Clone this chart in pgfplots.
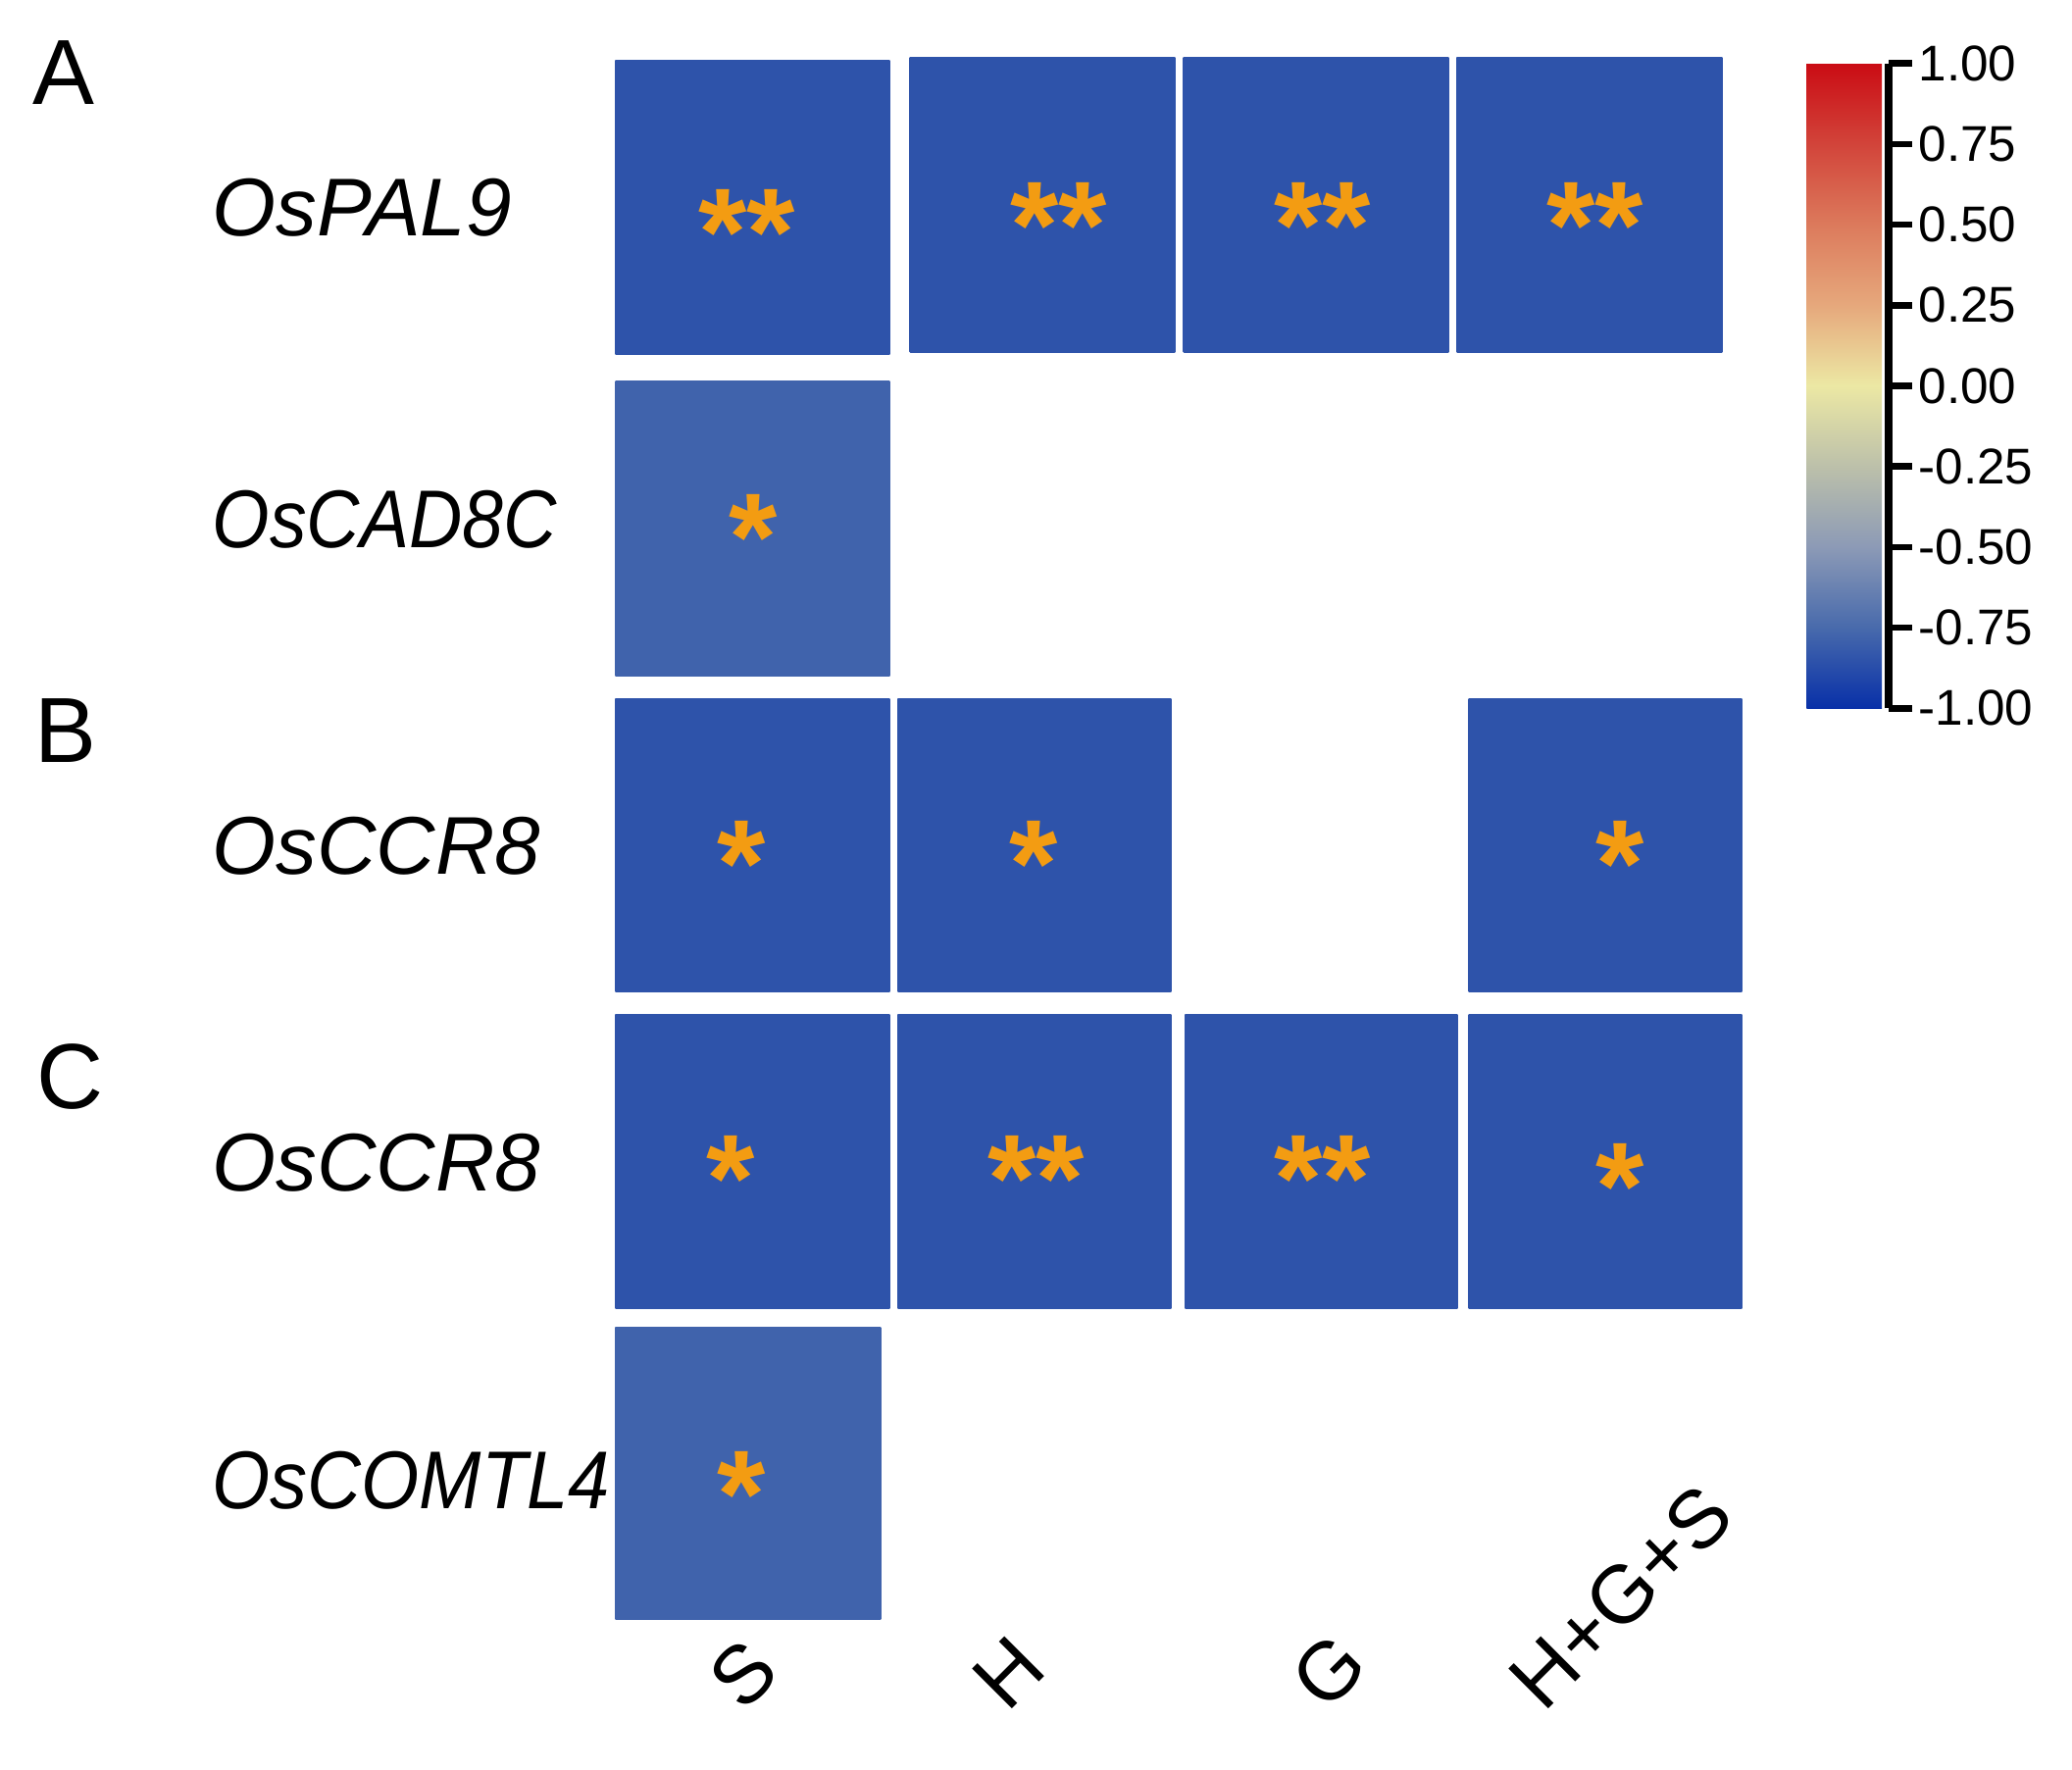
\documentclass[border=0pt]{standalone}
\usepackage{fontspec}
\setmainfont{Liberation Sans}
\usepackage{graphicx}
\usepackage{pgfplots}
\pgfplotsset{compat=1.18}
\usepackage{pgfplotstable}
\usepgfplotslibrary{patchplots}
\definecolor{starorange}{RGB}{243,156,18}
\pgfplotsset{colormap={corr}{rgb255=(8,48,168) rgb255=(72,106,172) rgb255=(140,154,182) rgb255=(188,192,170) rgb255=(236,232,164) rgb255=(230,168,124) rgb255=(220,122,92) rgb255=(210,68,58) rgb255=(202,12,20)}}

% heat-map cells: four corners each, c = correlation coefficient
\pgfplotstableread{
x y c
466 1071 -0.85
673 1071 -0.85
673 1293 -0.85
466 1293 -0.85
689 1073 -0.85
889 1073 -0.85
889 1295 -0.85
689 1295 -0.85
896 1073 -0.85
1096 1073 -0.85
1096 1295 -0.85
896 1295 -0.85
1103 1073 -0.85
1303 1073 -0.85
1303 1295 -0.85
1103 1295 -0.85
466 828 -0.78
673 828 -0.78
673 1050 -0.78
466 1050 -0.78
466 589 -0.85
673 589 -0.85
673 810 -0.85
466 810 -0.85
680 589 -0.85
886 589 -0.85
886 810 -0.85
680 810 -0.85
1112 589 -0.85
1318 589 -0.85
1318 810 -0.85
1112 810 -0.85
466 349 -0.85
673 349 -0.85
673 571 -0.85
466 571 -0.85
680 349 -0.85
886 349 -0.85
886 571 -0.85
680 571 -0.85
897 349 -0.85
1103 349 -0.85
1103 571 -0.85
897 571 -0.85
1112 349 -0.85
1318 349 -0.85
1318 571 -0.85
1112 571 -0.85
466 114 -0.78
666 114 -0.78
666 334 -0.78
466 334 -0.78
}\cells

\pgfplotstableread{
x y s
565 1177 **
801 1182 **
1001 1182 **
1207 1182 **
570 946 *
561 699 *
782 699 *
1226 699 *
553 461 *
784 461 **
1001 461 **
1226 455 *
561 222 *
}\stars

\begin{document}
\begin{tikzpicture}
\begin{axis}[
  scale only axis, width=392pt, height=334.75pt,
  xmin=0, xmax=1568, ymin=0, ymax=1339,
  axis line style={draw=none},
  major tick length=0pt, tick style={draw=none},
  clip=false,
  colormap name=corr,
  point meta min=-1, point meta max=1,
  xtick={562,762,1003,1168}, xticklabels={S,H,G,H+G+S},
  xticklabel style={yshift=10.5pt, rotate=45, anchor=base west, inner sep=0pt, font=\fontsize{15.5}{18}\selectfont},
  ytick={219,459,699,946,1182},
  yticklabels={{\scalebox{0.91}[1]{OsCOMTL4}},OsCCR8,OsCCR8,{\scalebox{0.9}[1]{OsCAD8C}},OsPAL9},
  yticklabel style={anchor=west, xshift=40pt, inner sep=0pt, font=\fontsize{15.5}{18}\selectfont\itshape},
]
\addplot[patch, patch type=rectangle, shader=flat, point meta=explicit] table[x=x, y=y, meta=c] {\cells};
\addplot[only marks, mark=none, point meta=explicit symbolic, nodes near coords,
  every node near coord/.append style={font=\fontsize{23.5}{25}\selectfont\bfseries, text=starorange, anchor=base, yshift=-11.5pt, inner sep=0pt}]
  table[x=x, y=y, meta=s] {\stars};
\node[font=\fontsize{17.5}{20}\selectfont] at (axis cs:48,1284) {A};
\node[font=\fontsize{17.5}{20}\selectfont] at (axis cs:50,786) {B};
\node[font=\fontsize{17.5}{20}\selectfont] at (axis cs:53,524) {C};
\end{axis}
\begin{axis}[
  at={(333.25pt,322.75pt)}, anchor=north west,
  scale only axis, width=15.5pt, height=122pt,
  hide axis,
  xmin=0, xmax=1, ymin=-1, ymax=1,
  colormap name=corr,
  point meta min=-1, point meta max=1,
  colorbar,
  colorbar style={
    at={(parent axis.north west)}, anchor=north west,
    scale only axis, width=15.5pt, height=122pt,
    axis x line=none, axis y line*=right,
    y axis line style={-, line width=1.5pt, black},
    ytick={-1,-0.75,-0.5,-0.25,0,0.25,0.5,0.75,1},
    yticklabels={-1.00,-0.75,-0.50,-0.25,0.00,0.25,0.50,0.75,1.00},
    ytick style={line width=1.2pt, black},
    major tick length=4.5pt, tick align=outside,
    yticklabel style={font=\fontsize{9.5}{11}\selectfont, inner sep=1pt},
  },
]
\addplot[draw=none, mark=none, point meta=explicit] coordinates {(0,-1) [-1] (1,1) [1]};
\end{axis}
\end{tikzpicture}
\end{document}
